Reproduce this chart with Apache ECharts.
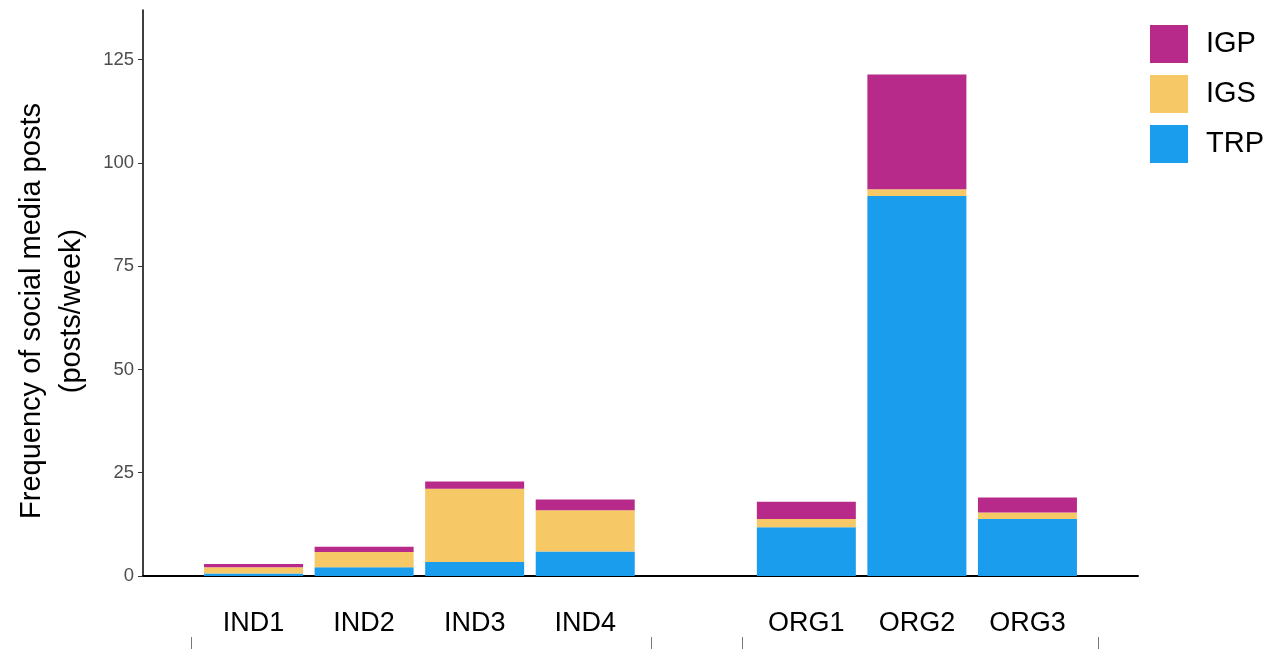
<!DOCTYPE html>
<html>
<head>
<meta charset="utf-8">
<script src="https://cdn.jsdelivr.net/npm/echarts@6/dist/echarts.min.js"></script>
<style>html,body{margin:0;padding:0;background:#fff}#c{width:1281px;height:649px}</style>
</head>
<body>
<div id="c"></div>
<script>
const categories = ['', 'IND1', 'IND2', 'IND3', 'IND4', '', 'ORG1', 'ORG2', 'ORG3', ''];
const TRP = [null, 0.6, 2.1, 3.4, 5.9, null, 11.8, 92.0, 13.8, null];
const IGS = [null, 1.5, 3.7, 17.7, 10.0, null, 2.0, 1.6, 1.6, null];
const IGP = [null, 0.8, 1.3, 1.8, 2.6, null, 4.2, 27.8, 3.6, null];
const yTicks = [0, 25, 50, 75, 100, 125];
const groupBounds = [0.44, 4.6, 5.42, 8.64];

const font = 'Liberation Sans, Arial, sans-serif';
const chart = echarts.init(document.getElementById('c'));
const bar = (name, data, color) => ({
  name, type: 'bar', stack: 'a', data, barWidth: 99,
  itemStyle: { color }, xAxisIndex: 0
});
chart.setOption({
  animation: false,
  textStyle: { fontFamily: font },
  grid: { left: 143, right: 143, top: 10, bottom: 73, containLabel: false, outerBoundsMode: 'none' },
  legend: {
    left: 1145, top: 20, orient: 'vertical', icon: 'rect',
    itemWidth: 38, itemHeight: 38, itemGap: 12,
    data: ['IGP', 'IGS', 'TRP'],
    textStyle: { fontSize: 29, color: '#000', fontFamily: font, padding: [0, 0, 0, 13] }
  },
  xAxis: [{
    type: 'category', data: categories, boundaryGap: false,
    axisLine: { lineStyle: { color: '#000', width: 2 } },
    axisTick: { show: false },
    axisLabel: { fontSize: 27, color: '#000', margin: 34, interval: 0 }
  }, {
    type: 'value', min: 0, max: 9, position: 'bottom', offset: 61,
    axisLine: { show: false }, splitLine: { show: false },
    axisTick: { show: true, length: 12, lineStyle: { color: '#777', width: 1 }, customValues: groupBounds },
    axisLabel: { show: false }
  }],
  yAxis: {
    type: 'value', min: 0, max: 137,
    name: 'Frequency of social media posts\n(posts/week)',
    nameLocation: 'middle', nameRotate: 90, nameGap: 50,
    nameTextStyle: { fontSize: 29, color: '#000', lineHeight: 40, padding: [0, 36, 0, 0] },
    axisLine: { show: true, lineStyle: { color: '#000', width: 1.5 } },
    axisTick: { show: true, length: 5, lineStyle: { color: '#333' }, customValues: yTicks },
    axisLabel: { fontSize: 18.5, color: '#4d4d4d', margin: 9, customValues: yTicks },
    splitLine: { show: false }
  },
  series: [
    bar('TRP', TRP, '#1A9DEC'),
    bar('IGS', IGS, '#F7C866'),
    bar('IGP', IGP, '#B82A8A')
  ]
});
</script>
</body>
</html>
